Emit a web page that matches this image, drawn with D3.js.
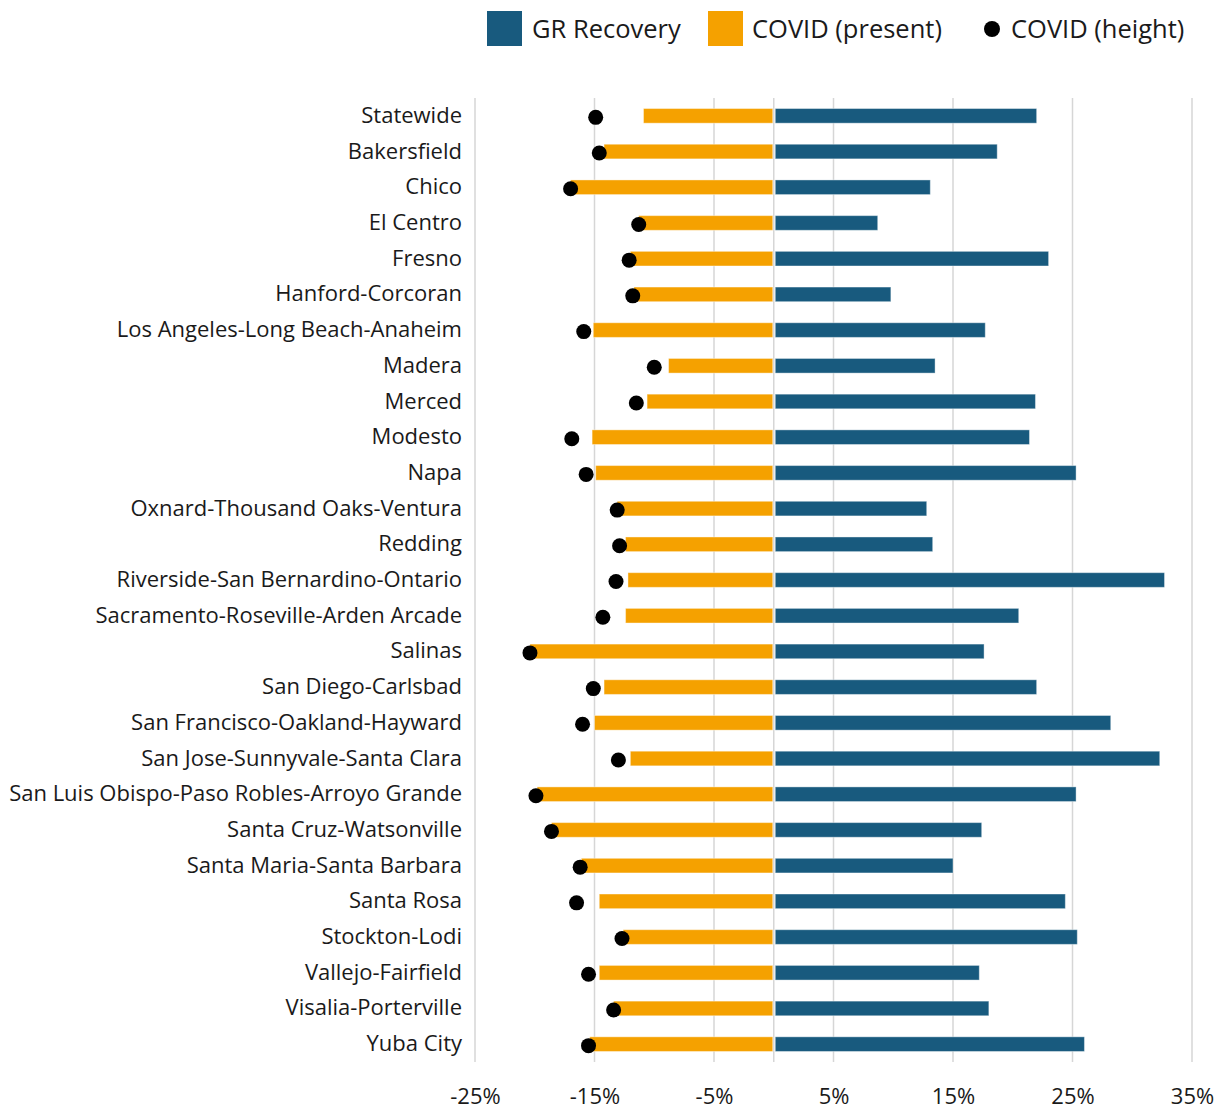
<!DOCTYPE html>
<html>
<head>
<meta charset="utf-8">
<script src="https://cdn.jsdelivr.net/npm/d3@7"></script>
<style>
    body { margin: 0; background: #fff; }
    text { font-family: "Open Sans", "Noto Sans", sans-serif; fill: #1a1a1a; }
</style>
</head>
<body>
<div id="chart"></div>
<script>
// Data
var regions = ["Statewide", "Bakersfield", "Chico", "El Centro", "Fresno", "Hanford-Corcoran",
    "Los Angeles-Long Beach-Anaheim", "Madera", "Merced", "Modesto", "Napa",
    "Oxnard-Thousand Oaks-Ventura", "Redding", "Riverside-San Bernardino-Ontario",
    "Sacramento-Roseville-Arden Arcade", "Salinas", "San Diego-Carlsbad",
    "San Francisco-Oakland-Hayward", "San Jose-Sunnyvale-Santa Clara",
    "San Luis Obispo-Paso Robles-Arroyo Grande", "Santa Cruz-Watsonville",
    "Santa Maria-Santa Barbara", "Santa Rosa", "Stockton-Lodi", "Vallejo-Fairfield",
    "Visalia-Porterville", "Yuba City"];
var grRecovery = [22.0, 18.7, 13.1, 8.7, 23.0, 9.8, 17.7, 13.5, 21.9, 21.4, 25.3, 12.8, 13.3, 32.7,
    20.5, 17.6, 22.0, 28.2, 32.3, 25.3, 17.4, 15.0, 24.4, 25.4, 17.2, 18.0, 26.0];
var covidPresent = [-10.9, -14.2, -17.0, -11.3, -12.0, -11.7, -15.1, -8.8, -10.6, -15.2, -14.9, -13.1,
    -12.4, -12.2, -12.4, -20.4, -14.2, -15.0, -12.0, -19.8, -18.6, -16.1, -14.6, -12.6, -14.6, -13.4, -15.4];
var covidHeight = [-14.9, -14.6, -17.0, -11.3, -12.1, -11.8, -15.9, -10.0, -11.5, -16.9, -15.7, -13.1,
    -12.9, -13.2, -14.3, -20.4, -15.1, -16.0, -13.0, -19.9, -18.6, -16.2, -16.5, -12.7, -15.5, -13.4, -15.5];
var tickValues = [-25, -15, -5, 5, 15, 25, 35];
var seriesNames = ["GR Recovery", "COVID (present)", "COVID (height)"];

var rows = regions.map(function(r, i) {
    return { region: r, gr: grRecovery[i], present: covidPresent[i], height: covidHeight[i] };
});

var blue = "#185a7e", orange = "#f5a100";
var width = 1225, height = 1111;
var plot = { left: 475, right: 1192, top: 98, bottom: 1062 };

var svg = d3.select("#chart")
    .append("svg")
    .attr("width", width)
    .attr("height", height);

// Scales
var x = d3.scaleLinear().domain([-25, 35]).range([plot.left, plot.right]);
var y = d3.scaleBand().domain(regions)
    .range([plot.top, plot.bottom])
    .paddingInner(0.59)
    .paddingOuter(0.295);

// Gridlines (ticks plus zero)
svg.append("g")
    .selectAll("line")
    .data(tickValues.concat([0]))
    .enter().append("line")
    .attr("x1", function(d) { return x(d); })
    .attr("x2", function(d) { return x(d); })
    .attr("y1", plot.top)
    .attr("y2", plot.bottom)
    .attr("stroke", "#d6d6d6")
    .attr("stroke-width", 1.5);

// Bottom axis labels
var xAxis = d3.axisBottom(x)
    .tickValues(tickValues)
    .tickSize(0)
    .tickPadding(26)
    .tickFormat(function(d) { return d + "%"; });
var gx = svg.append("g")
    .attr("transform", "translate(0," + plot.bottom + ")")
    .call(xAxis);
gx.select(".domain").remove();
gx.selectAll("text")
    .attr("font-size", 22)
    .attr("font-family", "'Open Sans', sans-serif")
    .attr("fill", "#1a1a1a");

// Category labels
var yAxis = d3.axisLeft(y).tickSize(0).tickPadding(13);
var gy = svg.append("g")
    .attr("transform", "translate(" + plot.left + ",0)")
    .call(yAxis);
gy.select(".domain").remove();
gy.selectAll("text")
    .attr("font-size", 22)
    .attr("font-family", "'Open Sans', sans-serif")
    .attr("fill", "#1a1a1a");

// COVID (present) bars
svg.selectAll(".present")
    .data(rows)
    .enter().append("rect")
    .attr("class", "present")
    .attr("x", function(d) { return x(d.present); })
    .attr("y", function(d) { return y(d.region); })
    .attr("width", function(d) { return x(0) - x(d.present) - 1; })
    .attr("height", y.bandwidth())
    .attr("fill", orange)
    .attr("stroke", "#fff")
    .attr("stroke-opacity", 0.4)
    .attr("stroke-width", 1);

// GR Recovery bars
svg.selectAll(".gr")
    .data(rows)
    .enter().append("rect")
    .attr("class", "gr")
    .attr("x", x(0) + 1.5)
    .attr("y", function(d) { return y(d.region); })
    .attr("width", function(d) { return x(d.gr) - x(0) - 1.5; })
    .attr("height", y.bandwidth())
    .attr("fill", blue)
    .attr("stroke", "#fff")
    .attr("stroke-opacity", 0.4)
    .attr("stroke-width", 1);

// COVID (height) dots
svg.selectAll(".dot")
    .data(rows)
    .enter().append("circle")
    .attr("class", "dot")
    .attr("cx", function(d) { return x(d.height); })
    .attr("cy", function(d) { return y(d.region) + y.bandwidth() / 2 + 1.5; })
    .attr("r", 7.5)
    .attr("fill", "#000");

// Legend
var legend = svg.append("g").attr("font-size", 25.5);
var legendItems = [
    { name: seriesNames[0], type: "rect", color: blue, x: 487, tx: 532 },
    { name: seriesNames[1], type: "rect", color: orange, x: 708, tx: 752 },
    { name: seriesNames[2], type: "dot", color: "#000", x: 984, tx: 1011 }
];
legendItems.forEach(function(d) {
    if (d.type === "rect") {
        legend.append("rect")
            .attr("x", d.x).attr("y", 11)
            .attr("width", 35).attr("height", 35)
            .attr("fill", d.color);
    } else {
        legend.append("circle")
            .attr("cx", d.x + 8).attr("cy", 29)
            .attr("r", 8)
            .attr("fill", d.color);
    }
    legend.append("text")
        .attr("x", d.tx).attr("y", 29)
        .attr("dy", "0.35em")
        .text(d.name);
});
</script>
</body>
</html>
